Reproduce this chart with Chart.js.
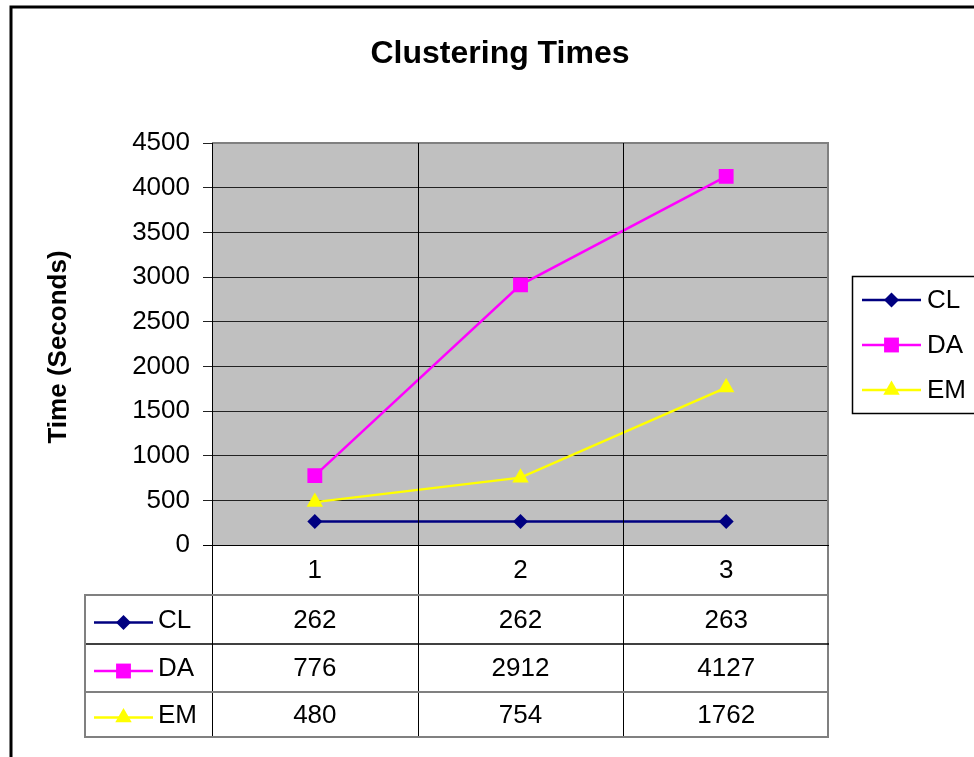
<!DOCTYPE html>
<html>
<head>
<meta charset="utf-8">
<script src="https://cdn.jsdelivr.net/npm/chart.js@4/dist/chart.umd.min.js"></script>
<style>
html,body{margin:0;padding:0;background:#fff;}
#wrap{width:974px;height:757px;position:relative;overflow:hidden;}
canvas{display:block;}
</style>
</head>
<body>
<div id="wrap"><canvas id="c" width="974" height="757"></canvas></div>
<script>
// ---- data ----
const categories = ['1', '2', '3'];
const seriesNames = ['CL', 'DA', 'EM'];
const clValues = [262, 262, 263];
const daValues = [776, 2912, 4127];
const emValues = [480, 754, 1762];
const yTickValues = [0, 500, 1000, 1500, 2000, 2500, 3000, 3500, 4000, 4500];
const chartTitle = 'Clustering Times';
const yAxisTitle = 'Time (Seconds)';

const seriesValues = [clValues, daValues, emValues];
const seriesColors = ['#000080', '#FF00FF', '#FFFF00'];
const seriesStyles = ['rectRot', 'rect', 'triangle'];
const seriesRadius = [7.5, 10.5, 9.5];

const FONT = "'Liberation Sans', Arial, Helvetica, sans-serif";

function drawMarker(ctx, style, x, y, r, color) {
  ctx.save();
  ctx.fillStyle = color;
  ctx.beginPath();
  if (style === 'rect') {
    const s = Math.SQRT1_2 * r;
    ctx.rect(x - s, y - s, 2 * s, 2 * s);
  } else if (style === 'rectRot') {
    ctx.moveTo(x, y - r); ctx.lineTo(x + r, y); ctx.lineTo(x, y + r); ctx.lineTo(x - r, y);
    ctx.closePath();
  } else {
    const w = r * Math.cos(Math.PI / 6);
    ctx.moveTo(x, y - r); ctx.lineTo(x + w, y + r / 2); ctx.lineTo(x - w, y + r / 2);
    ctx.closePath();
  }
  ctx.fill();
  ctx.restore();
}

function legendSymbol(ctx, i, x1, x2, y) {
  ctx.save();
  ctx.strokeStyle = seriesColors[i];
  ctx.lineWidth = 2.5;
  ctx.beginPath(); ctx.moveTo(x1, y); ctx.lineTo(x2, y); ctx.stroke();
  ctx.restore();
  drawMarker(ctx, seriesStyles[i], (x1 + x2) / 2, y, seriesRadius[i], seriesColors[i]);
}

const decorPlugin = {
  id: 'decor',
  beforeDraw(chart) {
    const { ctx, chartArea: a } = chart;
    ctx.save();
    ctx.fillStyle = '#C0C0C0';
    ctx.fillRect(a.left, a.top, a.right - a.left, a.bottom - a.top);
    ctx.restore();
  },
  afterDraw(chart) {
    const { ctx, chartArea: a } = chart;
    const xs = chart.scales.x;
    const centers = categories.map((c, i) => xs.getPixelForValue(i));
    const half = (centers[1] - centers[0]) / 2;
    const bounds = [centers[0] - half].concat(centers.map(c => c + half));

    const headerBottom = 595, rowBottoms = [644, 692, 737], tableLeft = 84;
    const tableBottom = rowBottoms[rowBottoms.length - 1];

    ctx.save();
    // plot border (grey) top & right
    ctx.strokeStyle = '#808080';
    ctx.lineWidth = 2;
    ctx.beginPath();
    ctx.moveTo(a.left, a.top); ctx.lineTo(a.right - 1, a.top); ctx.lineTo(a.right - 1, tableBottom);
    ctx.stroke();

    // inner vertical lines through plot and table
    ctx.strokeStyle = '#000';
    ctx.lineWidth = 1;
    for (let k = 1; k < bounds.length - 1; k++) {
      const bx = Math.round(bounds[k]) + 0.5;
      ctx.beginPath(); ctx.moveTo(bx, a.top); ctx.lineTo(bx, tableBottom); ctx.stroke();
    }
    ctx.beginPath(); ctx.moveTo(a.left + 0.5, a.top); ctx.lineTo(a.left + 0.5, tableBottom); ctx.stroke();
    ctx.beginPath(); ctx.moveTo(a.left - 9, a.bottom + 0.5); ctx.lineTo(a.right, a.bottom + 0.5); ctx.stroke();

    // table horizontal lines
    ctx.strokeStyle = '#808080';
    ctx.lineWidth = 2;
    ctx.beginPath(); ctx.moveTo(tableLeft, headerBottom); ctx.lineTo(a.right, headerBottom); ctx.stroke();
    ctx.strokeStyle = '#000';
    ctx.lineWidth = 1.5;
    ctx.beginPath(); ctx.moveTo(tableLeft, rowBottoms[0]); ctx.lineTo(a.right, rowBottoms[0]); ctx.stroke();
    ctx.strokeStyle = '#808080';
    ctx.lineWidth = 2;
    ctx.beginPath(); ctx.moveTo(tableLeft, rowBottoms[1]); ctx.lineTo(a.right, rowBottoms[1]); ctx.stroke();
    ctx.beginPath(); ctx.moveTo(tableLeft, tableBottom); ctx.lineTo(a.right, tableBottom); ctx.stroke();
    ctx.beginPath(); ctx.moveTo(tableLeft + 1, headerBottom); ctx.lineTo(tableLeft + 1, tableBottom); ctx.stroke();

    // table text
    ctx.fillStyle = '#000';
    ctx.font = '26px ' + FONT;
    ctx.textAlign = 'center';
    ctx.textBaseline = 'middle';
    categories.forEach((c, i) => ctx.fillText(c, centers[i], 571));
    const rowTops = [headerBottom].concat(rowBottoms.slice(0, -1));
    seriesNames.forEach((name, r) => {
      const cy = (rowTops[r] + rowBottoms[r]) / 2 + 1;
      seriesValues[r].forEach((v, i) => {
        ctx.textAlign = 'center';
        ctx.fillText(String(v), centers[i], cy);
      });
      legendSymbol(ctx, r, 94, 153, cy + 2);
      ctx.textAlign = 'left';
      ctx.fillText(name, 158, cy);
    });

    // legend box
    ctx.strokeStyle = '#000';
    ctx.lineWidth = 1.5;
    ctx.strokeRect(852.5, 276.5, 140, 137);
    const legY = [300, 345, 390];
    seriesNames.forEach((name, r) => {
      legendSymbol(ctx, r, 862, 921, legY[r]);
      ctx.fillStyle = '#000';
      ctx.textAlign = 'left';
      ctx.textBaseline = 'middle';
      ctx.font = '26px ' + FONT;
      ctx.fillText(name, 927, legY[r] + 1);
    });

    // title
    ctx.font = 'bold 32px ' + FONT;
    ctx.textAlign = 'center';
    ctx.textBaseline = 'middle';
    ctx.fillText(chartTitle, 500, 54);

    // y axis title
    ctx.save();
    ctx.translate(59, 347);
    ctx.rotate(-Math.PI / 2);
    ctx.font = 'bold 26px ' + FONT;
    ctx.fillText(yAxisTitle, 0, 0);
    ctx.restore();

    // outer frame
    ctx.strokeStyle = '#000';
    ctx.lineWidth = 3;
    ctx.beginPath(); ctx.moveTo(11, 760); ctx.lineTo(11, 7); ctx.lineTo(980, 7); ctx.stroke();
    ctx.restore();
  }
};

Chart.defaults.font.family = FONT;

new Chart(document.getElementById('c'), {
  type: 'line',
  data: {
    labels: categories,
    datasets: seriesNames.map((name, i) => ({
      label: name,
      data: seriesValues[i],
      borderColor: seriesColors[i],
      backgroundColor: seriesColors[i],
      pointBackgroundColor: seriesColors[i],
      pointBorderColor: seriesColors[i],
      pointBorderWidth: 0,
      pointStyle: seriesStyles[i],
      pointRadius: seriesRadius[i],
      borderWidth: 2.5,
      tension: 0,
      fill: false
    }))
  },
  options: {
    responsive: false,
    animation: false,
    devicePixelRatio: 1,
    layout: { padding: { left: 0, top: 143, right: 145, bottom: 212 } },
    plugins: { legend: { display: false }, title: { display: false }, tooltip: { enabled: false } },
    scales: {
      x: {
        type: 'category',
        offset: true,
        grid: { display: false },
        border: { display: false },
        ticks: { display: false },
        afterFit(s) { s.height = 0; }
      },
      y: {
        min: 0,
        max: 4500,
        afterBuildTicks(s) { s.ticks = yTickValues.map(v => ({ value: v })); },
        ticks: { color: '#000', font: { size: 26 }, padding: 13, callback: v => String(v) },
        grid: { color: '#222', lineWidth: 1, tickLength: 9, drawTicks: true },
        border: { display: true, color: '#000', width: 1 },
        afterFit(s) { s.width = 212; }
      }
    }
  },
  plugins: [decorPlugin]
});
</script>
</body>
</html>
